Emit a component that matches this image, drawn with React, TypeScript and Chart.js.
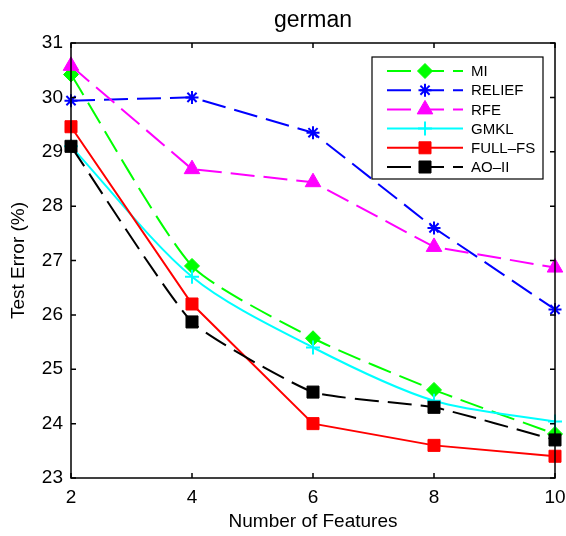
import React, { useEffect, useRef } from "react";
import { Chart, registerables } from "chart.js";
import { drawPoint } from "chart.js/helpers";

Chart.register(...registerables);

const features = [2, 4, 6, 8, 10];
const miErr = [30.42, 26.9, 25.57, 24.62, 23.81];
const reliefErr = [29.94, 30.0, 29.35, 27.6, 26.1];
const rfeErr = [30.58, 28.68, 28.44, 27.25, 26.87];
const gmklErr = [29.1, 26.7, 25.4, 24.42, 24.04];
const fullFsErr = [29.46, 26.2, 24.0, 23.6, 23.4];
const aoIIErr = [29.1, 25.87, 24.58, 24.3, 23.7];

const seriesNames = ["MI", "RELIEF", "RFE", "GMKL", "FULL\u2013FS", "AO\u2013II"];
const seriesColors = ["#00ff00", "#0000ff", "#ff00ff", "#00ffff", "#ff0000", "#000000"];
const seriesMarkers = ["rectRot", "star", "triangle", "cross", "rect", "rect"];
const seriesDashed = [true, true, true, false, false, true];

const xMin = 2;
const xMax = 10;
const xStep = 2;
const yMin = 23;
const yMax = 31;
const yStep = 1;

const chartTitle = "german";
const xTitle = "Number of Features";
const yTitle = "Test Error (%)";

const FONT = "'Liberation Sans', Arial, Helvetica, sans-serif";
const DASH = [24, 9];

const markerRadius: Record<string, number> = {
  rectRot: 7.5,
  star: 6.5,
  triangle: 9,
  cross: 7,
  rect: 8.5,
};

const framePlugin = {
  id: "frame",
  afterDatasetsDraw(chart: any) {
    const { ctx, chartArea, scales } = chart;
    const { left, right, top, bottom } = chartArea;
    ctx.save();
    ctx.strokeStyle = "#000";
    ctx.lineWidth = 1.5;
    ctx.setLineDash([]);
    ctx.strokeRect(left, top, right - left, bottom - top);
    ctx.beginPath();
    scales.x.ticks.forEach((t: any) => {
      const px = scales.x.getPixelForValue(t.value);
      ctx.moveTo(px, bottom);
      ctx.lineTo(px, bottom - 5);
      ctx.moveTo(px, top);
      ctx.lineTo(px, top + 5);
    });
    scales.y.ticks.forEach((t: any) => {
      const py = scales.y.getPixelForValue(t.value);
      ctx.moveTo(left, py);
      ctx.lineTo(left + 5, py);
      ctx.moveTo(right, py);
      ctx.lineTo(right - 5, py);
    });
    ctx.stroke();
    ctx.restore();
  },
};

const textPlugin = {
  id: "texts",
  afterDraw(chart: any) {
    const { ctx, chartArea } = chart;
    const cx = (chartArea.left + chartArea.right) / 2;
    const cy = (chartArea.top + chartArea.bottom) / 2;
    ctx.save();
    ctx.fillStyle = "#000";
    ctx.textAlign = "center";
    ctx.textBaseline = "middle";
    ctx.font = `23px ${FONT}`;
    ctx.fillText(chartTitle, cx, 21);
    ctx.font = `19px ${FONT}`;
    ctx.fillText(xTitle, cx, 522);
    ctx.translate(19, cy);
    ctx.rotate(-Math.PI / 2);
    ctx.fillText(yTitle, 0, 0);
    ctx.restore();
  },
};

const legendPlugin = {
  id: "customLegend",
  afterDraw(chart: any) {
    const { ctx } = chart;
    const bx = 372;
    const by = 57;
    const bw = 171;
    const bh = 122;
    ctx.save();
    ctx.fillStyle = "#fff";
    ctx.fillRect(bx, by, bw, bh);
    ctx.strokeStyle = "#000";
    ctx.lineWidth = 1.2;
    ctx.strokeRect(bx, by, bw, bh);
    chart.data.datasets.forEach((ds: any, i: number) => {
      const rowY = 71 + i * 19.2;
      ctx.save();
      ctx.strokeStyle = ds.borderColor;
      ctx.lineWidth = 2;
      ctx.setLineDash(ds.borderDash || []);
      ctx.beginPath();
      ctx.moveTo(387, rowY);
      ctx.lineTo(463, rowY);
      ctx.stroke();
      ctx.setLineDash([]);
      ctx.fillStyle = ds.pointBackgroundColor;
      ctx.strokeStyle = ds.pointBorderColor;
      ctx.lineWidth = ds.pointBorderWidth;
      drawPoint(ctx, { pointStyle: ds.pointStyle, radius: ds.pointRadius, rotation: 0, borderWidth: ds.pointBorderWidth }, 425, rowY);
      ctx.restore();
      ctx.fillStyle = "#000";
      ctx.font = `15px ${FONT}`;
      ctx.textAlign = "left";
      ctx.textBaseline = "middle";
      ctx.fillText(ds.label, 471, rowY + 1);
    });
    ctx.restore();
  },
};

const tensions = [0.2, 0, 0, 0.3, 0, 0.15];

export default function App() {
  const canvasRef = useRef<HTMLCanvasElement | null>(null);

  useEffect(() => {
    const canvas = canvasRef.current;
    if (!canvas) return;
    const all = [miErr, reliefErr, rfeErr, gmklErr, fullFsErr, aoIIErr];
    const datasets = all.map((vals, i) => {
      const m = seriesMarkers[i];
      const isLineMarker = m === "star" || m === "cross";
      return {
        label: seriesNames[i],
        data: features.map((f, j) => ({ x: f, y: vals[j] })),
        borderColor: seriesColors[i],
        backgroundColor: seriesColors[i],
        borderWidth: 2,
        borderDash: seriesDashed[i] ? DASH : [],
        pointStyle: m,
        pointRadius: markerRadius[m],
        pointBackgroundColor: seriesColors[i],
        pointBorderColor: seriesColors[i],
        pointBorderWidth: isLineMarker ? 2 : 1,
        tension: tensions[i],
        clip: false as any,
        order: all.length - i,
      };
    });
    const chart = new Chart(canvas, {
      type: "line",
      data: { datasets },
      plugins: [framePlugin, legendPlugin, textPlugin],
      options: {
        animation: false,
        responsive: false,
        devicePixelRatio: 1,
        layout: { padding: { top: 43, right: 11, left: 0, bottom: 0 } },
        plugins: {
          legend: { display: false },
          tooltip: { enabled: false },
          title: { display: false },
        },
        scales: {
          x: {
            type: "linear",
            min: xMin,
            max: xMax,
            grid: { display: false, drawTicks: false },
            border: { display: false },
            ticks: {
              stepSize: xStep,
              padding: 8,
              color: "#000",
              font: { family: FONT, size: 19 },
              maxRotation: 0,
            },
            afterFit(scale: any) {
              scale.height = 58;
              scale.paddingLeft = 0;
              scale.paddingRight = 0;
            },
          },
          y: {
            type: "linear",
            min: yMin,
            max: yMax,
            grid: { display: false, drawTicks: false },
            border: { display: false },
            ticks: {
              stepSize: yStep,
              padding: 8,
              color: "#000",
              font: { family: FONT, size: 19 },
            },
            afterFit(scale: any) {
              scale.width = 71;
              scale.paddingTop = 0;
              scale.paddingBottom = 0;
            },
          },
        },
      },
    });
    return () => chart.destroy();
  }, []);

  return (
    <div style={{ position: "absolute", left: 0, top: 0, width: 566, height: 536, background: "#fff" }}>
      <canvas ref={canvasRef} width={566} height={536} style={{ display: "block" }} />
    </div>
  );
}
